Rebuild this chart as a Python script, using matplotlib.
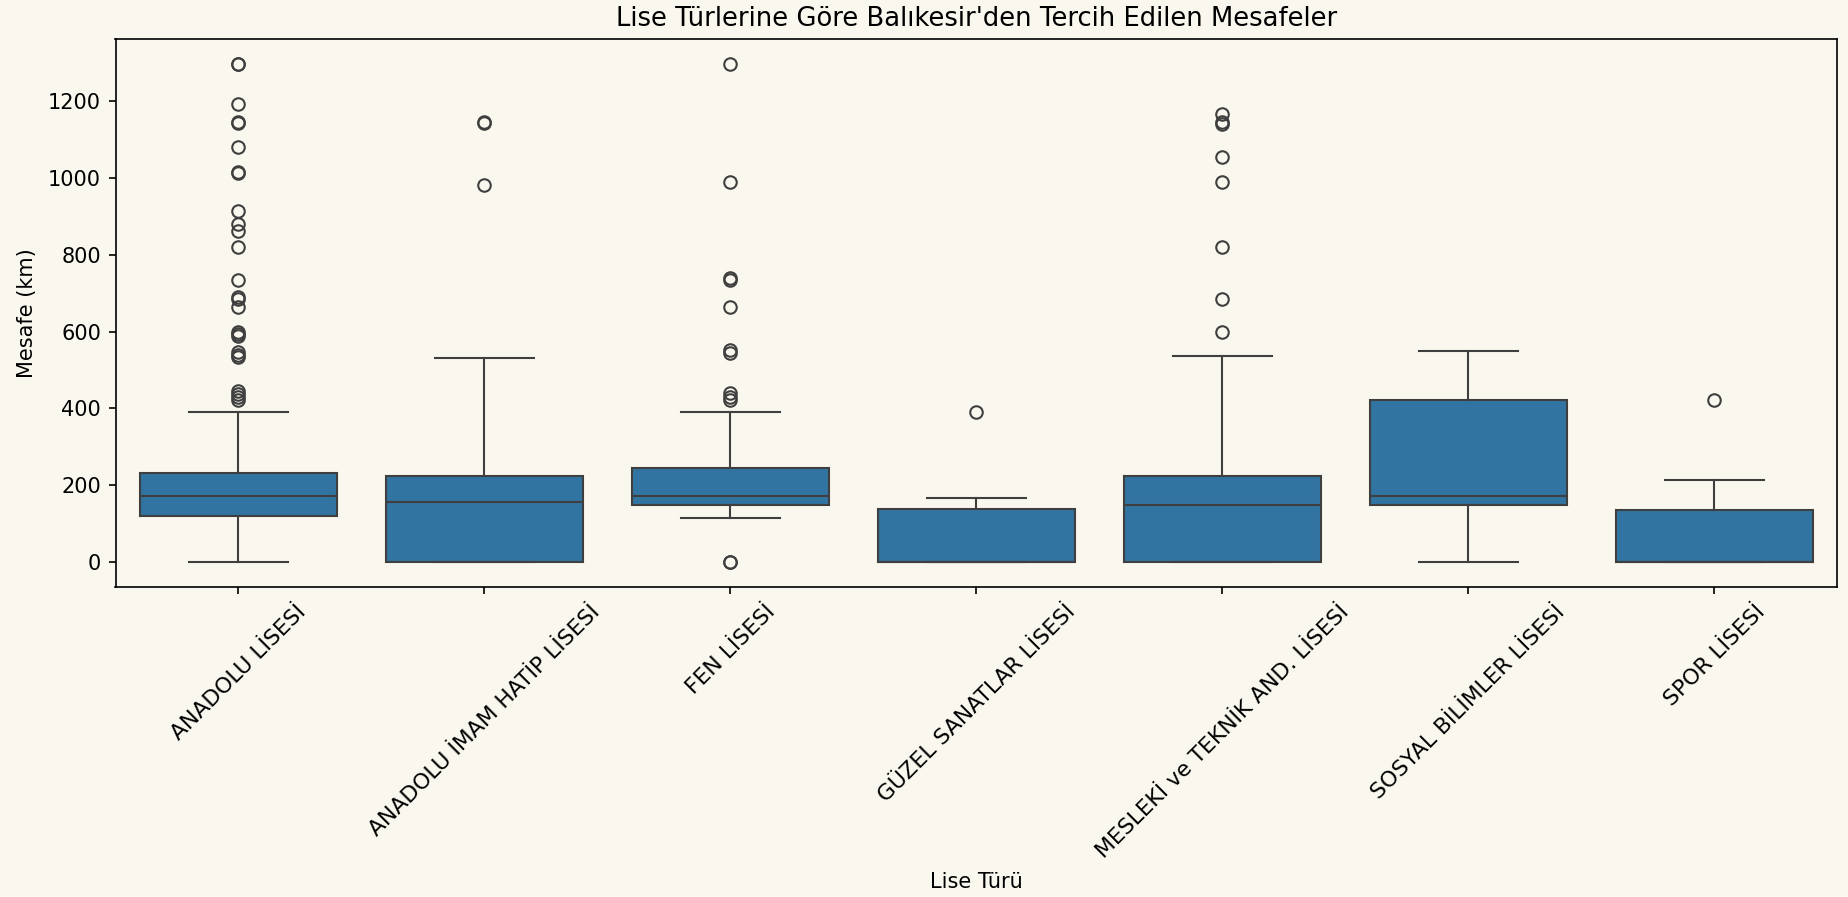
import matplotlib
matplotlib.use('Agg')
from matplotlib import pyplot as plt

categories = ['ANADOLU LİSESİ', 'ANADOLU İMAM HATİP LİSESİ', 'FEN LİSESİ',
              'GÜZEL SANATLAR LİSESİ', 'MESLEKİ ve TEKNİK AND. LİSESİ',
              'SOSYAL BİLİMLER LİSESİ', 'SPOR LİSESİ']
q1 = [119, 0, 148, 0, 0, 148, 0]
medians = [173, 156, 173, 0, 148, 173, 0]
q3 = [233, 225, 245, 139, 225, 423, 136]
whisker_low = [0, 0, 115, 0, 0, 0, 0]
whisker_high = [391, 532, 391, 168, 537, 549, 213]
fliers = [
    [1297, 1297, 1193, 1146, 1143, 1080, 1016, 1012, 914, 880, 861, 820,
     735, 690, 686, 664, 598, 594, 589, 548, 540, 534, 445, 438, 430, 422],
    [1145, 1142, 981],
    [1297, 990, 740, 735, 663, 551, 543, 440, 430, 422, 0, 0],
    [391],
    [1166, 1146, 1141, 1055, 990, 820, 686, 598],
    [],
    [423],
]

bg = '#faf7ee'
box_color = '#3274a1'
line_color = '#3f3f3f'

stats = []
for i, name in enumerate(categories):
    stats.append({'label': name, 'q1': q1[i], 'med': medians[i], 'q3': q3[i],
                  'whislo': whisker_low[i], 'whishi': whisker_high[i],
                  'fliers': fliers[i]})

fig = plt.figure(figsize=(12.32, 5.98), dpi=150, facecolor=bg)
ax = fig.add_axes([0.0625, 0.3456, 0.9318, 0.611])
ax.set_facecolor(bg)

line_kw = dict(color=line_color, linewidth=1.0)
ax.bxp(stats, positions=range(len(categories)), widths=0.8, patch_artist=True,
       boxprops=dict(facecolor=box_color, edgecolor=line_color, linewidth=1.0),
       medianprops=line_kw, whiskerprops=line_kw, capprops=line_kw,
       capwidths=0.4,
       flierprops=dict(marker='o', markersize=6, markerfacecolor='none',
                       markeredgecolor=line_color, markeredgewidth=1.0))

ax.set_xlim(-0.5, len(categories) - 0.5)
ax.margins(y=0.05)
ax.set_xticks(range(len(categories)))
ax.set_xticklabels(categories, rotation=45, fontsize=10.5)
ax.set_title("Lise Türlerine Göre Balıkesir'den Tercih Edilen Mesafeler", fontsize=12.4)
ax.set_xlabel('Lise Türü', labelpad=5)
ax.set_ylabel('Mesafe (km)', labelpad=5)

fig.savefig('out.png', dpi=150, facecolor=bg)
